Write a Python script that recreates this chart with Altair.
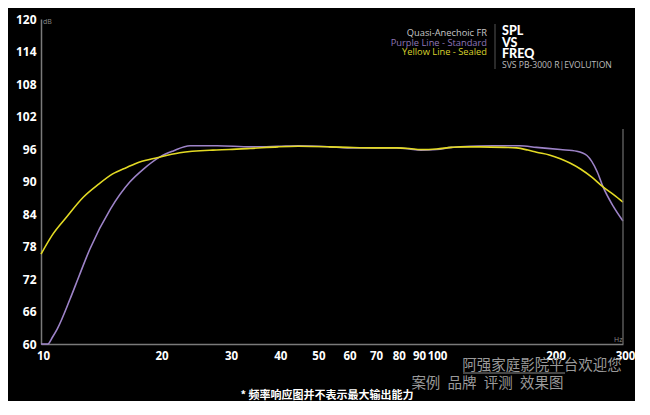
import altair as alt
import pandas as pd

# ---- data ----
yellow_freq = [10, 10.7, 11.6, 12.8, 14.0, 15.2, 16.5, 17.8, 19.7, 22.5, 27.3, 30, 34, 40, 45, 54,
               60, 70, 80, 86, 92, 101, 110, 116, 130, 150, 161, 172, 181, 195, 208, 220, 234,
               250, 267, 285, 300]
yellow_db = [76.6, 80.2, 83.4, 87.1, 89.5, 91.4, 92.6, 93.6, 94.4, 95.3, 95.8, 95.9, 96.1, 96.4, 96.5, 96.4,
             96.3, 96.2, 96.2, 96.1, 95.9, 96.0, 96.3, 96.4, 96.4, 96.3, 96.2, 95.8, 95.4, 94.9, 94.2, 93.4, 92.3,
             90.8, 89.0, 87.5, 86.2]

purple_freq = [10, 10.4, 10.7, 11.0, 11.85, 12.5, 13.3, 15.0, 16.8, 18.2, 20, 21.6, 23.9, 28, 34, 40, 45,
               54, 60, 70, 80, 86, 92, 101, 110, 116, 140, 164, 181, 208, 229, 243, 258, 267, 283, 300]
purple_db = [60.0, 60.0, 61.3, 62.8, 68.3, 72.6, 77.5, 84.9, 89.9, 92.3, 94.5, 95.6, 96.6, 96.6, 96.4, 96.5, 96.6,
             96.4, 96.2, 96.2, 96.2, 96.0, 95.8, 95.9, 96.3, 96.4, 96.6, 96.6, 96.3, 95.9, 95.6, 94.8, 91.8, 89.0,
             85.5, 82.7]

x_ticks = [10, 20, 30, 40, 50, 60, 70, 80, 90, 100, 200, 300]
y_ticks = [60, 66, 72, 78, 84, 90, 96, 102, 108, 114, 120]

legend_lines = ["Quasi-Anechoic FR", "Purple Line - Standard", "Yellow Line - Sealed"]
legend_colors = ["#c8c8c8", "#8f76b8", "#d9d22c"]
title_lines = ["SPL", "VS", "FREQ"]
subtitle_text = "SVS PB-3000 R|EVOLUTION"
watermark_1 = "阿强家庭影院平台欢迎您"
watermark_2 = "案例\u2002品牌\u2002评测\u2002效果图"
footnote = "* 频率响应图并不表示最大输出能力"
y_unit = "dB"
x_unit = "Hz"
right_edge = {"freq": [300], "lo": [60], "hi": [99.7]}

PURPLE = "#9d83c8"
YELLOW = "#e3da24"
FONT = "Open Sans"
CJK = "Noto Sans CJK SC"

W, H = 582, 325

df = pd.concat([
    pd.DataFrame({"freq": purple_freq, "db": purple_db, "series": "Standard"}),
    pd.DataFrame({"freq": yellow_freq, "db": yellow_db, "series": "Sealed"}),
])

xscale = alt.Scale(type="log", domain=[10, 300], nice=False)
yscale = alt.Scale(domain=[60, 120], nice=False, zero=False)

xaxis = alt.Axis(values=x_ticks, format="d", title=None, grid=False, ticks=False,
                 labelFlush=False, labelOverlap=False, labelColor="white", labelFont=FONT,
                 labelFontSize=11.5, labelFontWeight="bold", labelPadding=6, labelOffset=2,
                 domainColor="#7a7a7a", domainWidth=1.5)
yaxis = alt.Axis(values=y_ticks, title=None, grid=False, ticks=False, labelOverlap=False,
                 labelColor="white", labelFont=FONT, labelFontSize=12,
                 labelFontWeight="bold", labelPadding=5,
                 minExtent=33, maxExtent=33,
                 domainColor="#7a7a7a", domainWidth=1.5)

lines = alt.Chart(df).mark_line(strokeWidth=1.6, interpolate="monotone").encode(
    x=alt.X("freq:Q", scale=xscale, axis=xaxis),
    y=alt.Y("db:Q", scale=yscale, axis=yaxis),
    color=alt.Color("series:N", scale=alt.Scale(domain=["Standard", "Sealed"], range=[PURPLE, YELLOW]),
                    legend=None),
    order=alt.Order("series:N", sort="descending"),
)

edge = alt.Chart(pd.DataFrame(right_edge)).mark_rule(color="#6e6e6e", strokeWidth=1.2).encode(
    x=alt.X("freq:Q", scale=xscale, axis=xaxis),
    y=alt.Y("lo:Q", scale=yscale, axis=yaxis), y2="hi:Q"
)


def text_layer(texts, xs, ys, align, size, color, weight="normal", font=FONT):
    d = pd.DataFrame({"t": texts, "px": xs, "py": ys,
                      "c": color if isinstance(color, list) else [color] * len(texts)})
    return alt.Chart(d).mark_text(align=align, baseline="middle", fontSize=size,
                                  fontWeight=weight, font=font).encode(
        text="t:N", x=alt.X("px:Q", scale=None), y=alt.Y("py:Q", scale=None),
        color=alt.Color("c:N", scale=None))


legend = text_layer(legend_lines, [446, 446, 446], [14, 23.5, 33], "right", 9.3, legend_colors)
titles = text_layer(title_lines, [461, 461, 461], [12, 23.5, 35], "left", 12.5, "white",
                    weight=900, font="Lato")
subtitle = text_layer([subtitle_text], [461], [46], "left", 8.6, "#bdbdbd")
sep = alt.Chart(pd.DataFrame({"a": [0]})).mark_rule(color="#555555", strokeWidth=1).encode(
    x=alt.value(454), y=alt.value(5), y2=alt.value(50))

units = text_layer([y_unit, x_unit], [2, 573], [3, 321], "left", 7, "#8a8a8a")

wm1 = text_layer([watermark_1], [501], [347], "center", 14.5, "#9a9a9a", font=CJK)
wm2 = text_layer([watermark_2], [446.5], [364.5], "center", 14.5, "#9a9a9a", font=CJK)
wm_line = alt.Chart(pd.DataFrame({"a": [0]})).mark_rule(color="#8a8a8a", strokeWidth=1).encode(
    x=alt.value(422), x2=alt.value(524), y=alt.value(354))
foot = text_layer([footnote], [286], [377], "center", 11, "white", weight="bold", font=CJK)

chart = alt.layer(lines, edge, legend, titles, subtitle, sep, units, wm1, wm_line, wm2, foot).properties(
    width=W, height=H,
    background="#000000",
    padding={"left": 0, "top": 5, "right": 0, "bottom": 0},
).configure_view(stroke=None)

chart.save("out.html", embed_options={"renderer": "svg", "actions": False})
